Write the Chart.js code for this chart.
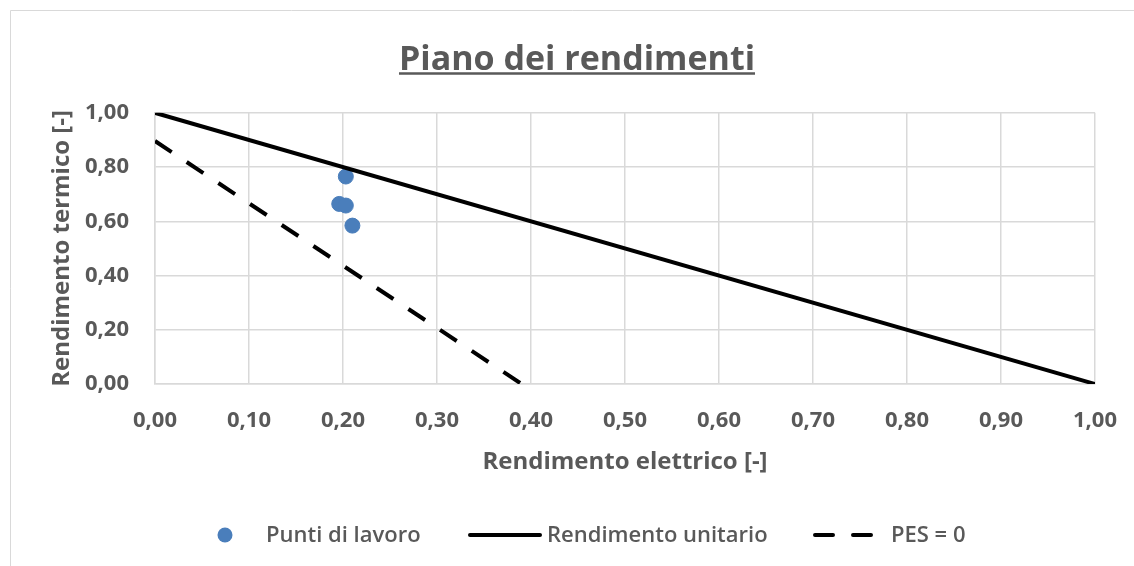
<!DOCTYPE html>
<html>
<head>
<meta charset="utf-8">
<title>Piano dei rendimenti</title>
<script src="https://cdn.jsdelivr.net/npm/chart.js@4.4.1/dist/chart.umd.min.js"></script>
<style>
  html, body { margin: 0; padding: 0; background: #ffffff; overflow: hidden; }
  #wrap { position: relative; width: 1134px; height: 566px; }
</style>
</head>
<body>
<div id="wrap"><canvas id="chart" width="1134" height="566"></canvas></div>
<script>
// Working points (electrical efficiency, thermal efficiency)
const puntiX = [0.203, 0.196, 0.203, 0.210];
const puntiY = [0.765, 0.664, 0.658, 0.584];

// Unit total efficiency line: eta_el + eta_th = 1
const unitarioX = [0, 1];
const unitarioY = [1, 0];

// PES = 0 boundary
const pesX = [0, 0.39];
const pesY = [0.896, 0];

// Axis ticks
const xTicks = [0, 0.1, 0.2, 0.3, 0.4, 0.5, 0.6, 0.7, 0.8, 0.9, 1.0];
const yTicks = [0, 0.2, 0.4, 0.6, 0.8, 1.0];

const seriesNames = ['Punti di lavoro', 'Rendimento unitario', 'PES = 0'];

const GREY = '#595959';
const GRID = '#d9d9d9';
const FONT = "'Open Sans', 'Noto Sans', sans-serif";

function toPoints(xs, ys) {
  return xs.map((x, i) => ({ x: x, y: ys[i] }));
}
function fmt(v) {
  return Number(v).toFixed(2).replace('.', ',');
}

// Outer frame of the chart object
const framePlugin = {
  id: 'frame',
  beforeDraw(chart) {
    const ctx = chart.ctx;
    ctx.save();
    ctx.fillStyle = '#ffffff';
    ctx.fillRect(0, 0, chart.width, chart.height);
    ctx.strokeStyle = '#d9d9d9';
    ctx.lineWidth = 1;
    ctx.beginPath();
    ctx.moveTo(10.5, chart.height);
    ctx.lineTo(10.5, 10.5);
    ctx.lineTo(chart.width, 10.5);
    ctx.stroke();
    ctx.restore();
  }
};

// Underline below the chart title
const underlinePlugin = {
  id: 'titleUnderline',
  afterDraw(chart) {
    const t = chart.titleBlock;
    if (!t) return;
    const opts = chart.options.plugins.title;
    const ctx = chart.ctx;
    ctx.save();
    ctx.font = `${opts.font.weight} ${opts.font.size}px ${opts.font.family}`;
    const w = ctx.measureText(opts.text).width;
    const cx = t.left + t.width / 2;
    const y = t.top + opts.padding.top + opts.font.size * 1.2 / 2 + 13;
    ctx.strokeStyle = GREY;
    ctx.lineWidth = 2.5;
    ctx.beginPath();
    ctx.moveTo(cx - w / 2, y);
    ctx.lineTo(cx + w / 2, y);
    ctx.stroke();
    ctx.restore();
  }
};

// Legend row along the bottom
const legendPlugin = {
  id: 'bottomLegend',
  afterDraw(chart) {
    const ctx = chart.ctx;
    const y = 535;
    const ds = chart.data.datasets;
    ctx.save();
    ctx.font = `600 22px ${FONT}`;
    ctx.fillStyle = GREY;
    ctx.textBaseline = 'middle';
    ctx.textAlign = 'left';

    // marker
    ctx.fillStyle = ds[0].backgroundColor;
    ctx.beginPath();
    ctx.arc(225, y, 7.5, 0, Math.PI * 2);
    ctx.fill();
    ctx.fillStyle = GREY;
    ctx.fillText(ds[0].label, 266, y + 1);

    // solid line
    ctx.strokeStyle = ds[1].borderColor;
    ctx.lineWidth = 4;
    ctx.lineCap = 'round';
    ctx.beginPath();
    ctx.moveTo(470, y);
    ctx.lineTo(540, y);
    ctx.stroke();
    ctx.fillText(ds[1].label, 547, y + 1);

    // dashed line
    ctx.strokeStyle = ds[2].borderColor;
    ctx.beginPath();
    ctx.moveTo(815, y); ctx.lineTo(833, y);
    ctx.moveTo(853, y); ctx.lineTo(871, y);
    ctx.stroke();
    ctx.fillText(ds[2].label, 891, y + 1);
    ctx.restore();
  }
};

const ctx = document.getElementById('chart').getContext('2d');
new Chart(ctx, {
  type: 'scatter',
  data: {
    datasets: [
      {
        label: seriesNames[0],
        data: toPoints(puntiX, puntiY),
        backgroundColor: '#4a7ebb',
        borderColor: '#4a7ebb',
        pointRadius: 7.5,
        pointHoverRadius: 7.5,
        showLine: false,
        order: 2
      },
      {
        label: seriesNames[1],
        data: toPoints(unitarioX, unitarioY),
        borderColor: '#000000',
        backgroundColor: '#000000',
        borderWidth: 4,
        pointRadius: 0,
        showLine: true,
        order: 1
      },
      {
        label: seriesNames[2],
        data: toPoints(pesX, pesY),
        borderColor: '#000000',
        backgroundColor: '#000000',
        borderWidth: 4,
        borderDash: [20, 18],
        pointRadius: 0,
        showLine: true,
        order: 0
      }
    ]
  },
  options: {
    responsive: false,
    animation: false,
    events: [],
    layout: { padding: { left: 20, right: 0, top: 0, bottom: 82 } },
    plugins: {
      legend: { display: false },
      tooltip: { enabled: false },
      title: {
        display: true,
        text: 'Piano dei rendimenti',
        color: GREY,
        font: { family: FONT, size: 34, weight: 'bold' },
        padding: { top: 40, bottom: 32 }
      }
    },
    scales: {
      x: {
        type: 'linear',
        min: 0,
        max: 1,
        afterBuildTicks(scale) { scale.ticks = xTicks.map(v => ({ value: v })); },
        afterFit(scale) { scale.height = 100; },
        grid: { color: GRID, lineWidth: 1.5, drawTicks: true, tickLength: 24, tickColor: 'rgba(0,0,0,0)' },
        border: { color: GRID, width: 1.5 },
        ticks: {
          color: GREY,
          font: { family: FONT, size: 22, weight: 'bold' },
          padding: 0,
          callback: v => fmt(v)
        },
        title: {
          display: true,
          text: 'Rendimento elettrico [-]',
          color: GREY,
          font: { family: FONT, size: 24, weight: 'bold' },
          padding: { top: 0, bottom: 7 }
        }
      },
      y: {
        type: 'linear',
        min: 0,
        max: 1,
        afterBuildTicks(scale) { scale.ticks = yTicks.map(v => ({ value: v })); },
        afterFit(scale) { scale.width = 135; },
        grid: { color: GRID, lineWidth: 1.5, drawTicks: false },
        border: { color: GRID, width: 1.5 },
        ticks: {
          color: GREY,
          font: { family: FONT, size: 22, weight: 'bold' },
          padding: 26,
          callback: v => fmt(v)
        },
        title: {
          display: true,
          text: 'Rendimento termico [-]',
          color: GREY,
          font: { family: FONT, size: 24, weight: 'bold' },
          padding: { top: 28, bottom: 0 }
        }
      },
      yRight: {
        type: 'linear',
        position: 'right',
        display: true,
        afterFit(scale) { scale.width = 39; },
        grid: { display: false, drawTicks: false },
        border: { display: false },
        ticks: { display: false }
      }
    }
  },
  plugins: [framePlugin, underlinePlugin, legendPlugin]
});
</script>
</body>
</html>
